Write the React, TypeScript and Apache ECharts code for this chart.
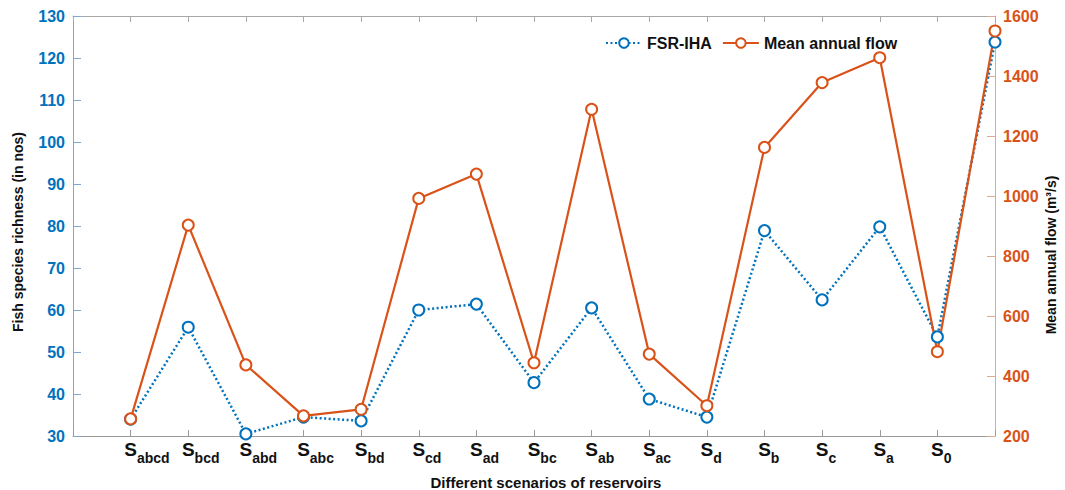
import React, { useEffect, useRef } from "react";
import * as echarts from "echarts";

const scenarioSubs = ["abcd", "bcd", "abd", "abc", "bd", "cd", "ad", "bc", "ab", "ac", "d", "b", "c", "a", "0", ""];
const fsrIha = [34.0, 55.9, 30.5, 34.5, 33.6, 60.0, 61.4, 42.7, 60.5, 38.8, 34.5, 78.9, 62.4, 79.8, 53.6, 123.8];
const meanFlow = [257, 903, 437, 267, 289, 992, 1073, 444, 1289, 473, 301, 1162, 1378, 1461, 481, 1550];
const leftTicks = { min: 30, max: 130, interval: 10 };
const rightTicks = { min: 200, max: 1600, interval: 200 };

const FONT = '"Liberation Sans", Arial, sans-serif';
const BLUE = "#0072BD";
const ORANGE = "#D95319";

function measure(text: string, font: string): number {
  const c = document.createElement("canvas");
  const ctx = c.getContext("2d");
  if (!ctx) return text.length * 8;
  ctx.font = font;
  return ctx.measureText(text).width;
}

export default function App() {
  const ref = useRef<HTMLDivElement>(null);
  useEffect(() => {
    if (!ref.current) return;
    const chart = echarts.init(ref.current, undefined, { renderer: "svg" });
    const rich: Record<string, any> = {
      s: { fontSize: 19, fontWeight: "bold", color: "#111", fontFamily: FONT, verticalAlign: "bottom", padding: [0, 0, 6, 0] },
      sub: { fontSize: 14, fontWeight: "bold", color: "#111", fontFamily: FONT, verticalAlign: "bottom" },
    };
    scenarioSubs.forEach((sub, i) => {
      rich["p" + i] = { width: measure(sub, `bold 14px ${FONT}`), fontSize: 14, fontFamily: FONT, verticalAlign: "bottom" };
    });
    const xs = scenarioSubs.map((_, i) => i + 1);
    chart.setOption({
      animation: false,
      backgroundColor: "#fff",
      grid: { left: 73, right: 70, top: 16, bottom: 54 },
      legend: {
        left: 600,
        top: 30,
        itemWidth: 36,
        itemHeight: 12,
        itemGap: 10,
        textStyle: { fontSize: 16, fontWeight: "bold", color: "#111", fontFamily: FONT },
        data: ["FSR-IHA", "Mean annual flow"],
      },
      xAxis: [
        {
          type: "value",
          min: 0,
          max: 16,
          interval: 1,
          position: "bottom",
          splitLine: { show: false },
          axisLine: { onZero: false, lineStyle: { color: "#9a9a9a", width: 1 } },
          axisTick: { inside: true, length: 6, lineStyle: { color: "#9a9a9a" } },
          axisLabel: {
            margin: 4,
            formatter: (v: number) => {
              const i = Math.round(v) - 1;
              if (i < 0 || i >= 15) return "";
              return `{p${i}| }{s|S}{sub|${scenarioSubs[i]}}`;
            },
            rich,
          },
        },
        {
          type: "value",
          min: 0,
          max: 16,
          interval: 1,
          position: "top",
          splitLine: { show: false },
          axisLine: { onZero: false, lineStyle: { color: "#a8a8a8", width: 1 } },
          axisTick: { inside: true, length: 6, lineStyle: { color: "#a8a8a8" } },
          axisLabel: { show: false },
        },
      ],
      yAxis: [
        {
          type: "value",
          ...leftTicks,
          position: "left",
          splitLine: { show: false },
          axisLine: { show: true, onZero: false, lineStyle: { color: "#7ea9cc", width: 1 } },
          axisTick: { show: true, inside: true, length: 8, lineStyle: { color: "#7ea9cc" } },
          axisLabel: { margin: 8, color: BLUE, fontSize: 16, fontWeight: "bold", fontFamily: FONT, formatter: (v: number) => String(v) },
        },
        {
          type: "value",
          ...rightTicks,
          position: "right",
          splitLine: { show: false },
          axisLine: { show: true, onZero: false, lineStyle: { color: "#d9ad94", width: 1 } },
          axisTick: { show: true, inside: true, length: 8, lineStyle: { color: "#d9ad94" } },
          axisLabel: { margin: 8, color: ORANGE, fontSize: 16, fontWeight: "bold", fontFamily: FONT, formatter: (v: number) => String(v) },
        },
      ],
      series: [
        {
          name: "FSR-IHA",
          type: "line",
          xAxisIndex: 0,
          yAxisIndex: 0,
          data: xs.map((x, i) => [x, fsrIha[i]]),
          symbol: "emptyCircle",
          symbolSize: 11,
          lineStyle: { color: BLUE, width: 2.5, type: [2, 2.5] },
          itemStyle: { color: BLUE, borderWidth: 2.2 },
        },
        {
          name: "Mean annual flow",
          type: "line",
          xAxisIndex: 0,
          yAxisIndex: 1,
          data: xs.map((x, i) => [x, meanFlow[i]]),
          symbol: "emptyCircle",
          symbolSize: 11,
          lineStyle: { color: ORANGE, width: 2.2 },
          itemStyle: { color: ORANGE, borderWidth: 2.2 },
        },
      ],
      graphic: [
        {
          type: "text",
          x: 18,
          y: 232,
          rotation: Math.PI / 2,
          style: {
            text: "Fish species richness (in nos)",
            font: `bold 14px ${FONT}`,
            fill: "#111",
            textAlign: "center",
            textVerticalAlign: "middle",
            align: "center",
            verticalAlign: "middle",
          },
        },
        {
          type: "text",
          x: 1051,
          y: 255,
          rotation: Math.PI / 2,
          style: {
            text: "Mean annual flow (m³/s)",
            font: `bold 14px ${FONT}`,
            fill: "#111",
            textAlign: "center",
            textVerticalAlign: "middle",
            align: "center",
            verticalAlign: "middle",
          },
        },
        {
          type: "text",
          x: 546,
          y: 482,
          style: {
            text: "Different scenarios of reservoirs",
            font: `bold 15px ${FONT}`,
            fill: "#111",
            textAlign: "center",
            textVerticalAlign: "middle",
            align: "center",
            verticalAlign: "middle",
          },
        },
      ],
    });
    return () => chart.dispose();
  }, []);
  return <div ref={ref} style={{ position: "fixed", left: 0, top: 0, width: 1065, height: 490, background: "#fff" }} />;
}
